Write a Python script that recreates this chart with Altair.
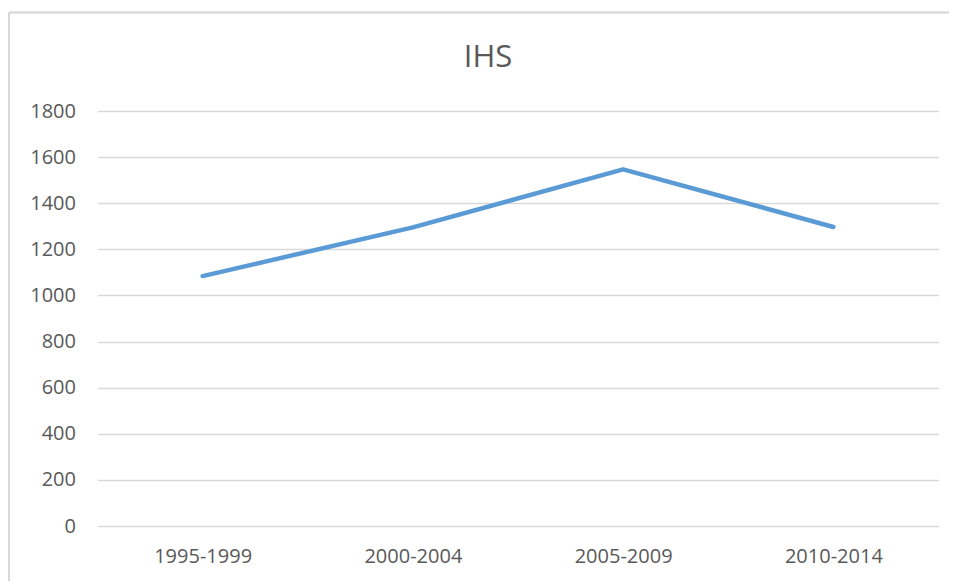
import altair as alt
import pandas as pd

periods = ["1995-1999", "2000-2004", "2005-2009", "2010-2014"]
values = [1084, 1295, 1547, 1297]
y_ticks = [0, 200, 400, 600, 800, 1000, 1200, 1400, 1600, 1800]
title_text = "IHS"

df = pd.DataFrame({"period": periods, "value": values})

FONT = "Open Sans"
TXT = "#595959"

line = alt.Chart(df).mark_line(
    color="#5b9bd5", strokeWidth=4.5, strokeCap="round", strokeJoin="round"
).encode(
    x=alt.X("period:N", sort=periods, title=None,
            scale=alt.Scale(type="point", padding=0.5),
            axis=alt.Axis(labelAngle=0, labelFont=FONT, labelFontSize=20,
                          labelColor=TXT, labelPadding=20, ticks=False,
                          domain=False, grid=False)),
    y=alt.Y("value:Q", title=None,
            scale=alt.Scale(domain=[0, 1800], nice=False),
            axis=alt.Axis(values=y_ticks, format="d", labelFont=FONT,
                          labelFontSize=20, labelColor=TXT, labelPadding=22,
                          ticks=False, domain=False, grid=True,
                          gridColor="#d9d9d9", gridWidth=1.5)),
)

border_top = alt.Chart(df).mark_rule(
    stroke="#d9d9d9", strokeWidth=1.5, clip=False
).encode(
    x=alt.value(-88.5), x2=alt.value(852), y=alt.value(-98.5)
)

border_left = alt.Chart(df).mark_rule(
    stroke="#d9d9d9", strokeWidth=1.5, clip=False
).encode(
    x=alt.value(-88.5), y=alt.value(-98.5), y2=alt.value(470)
)

title = alt.Chart(pd.DataFrame({"t": [title_text]})).mark_text(
    font=FONT, fontSize=31, color=TXT, align="center", baseline="alphabetic"
).encode(
    text="t:N", x=alt.value(390.5), y=alt.value(-44)
)

chart = alt.layer(border_top, border_left, line, title).properties(
    width=841,
    height=415,
    padding={"left": 89.5, "top": 103, "right": 10, "bottom": 55},
    autosize=alt.AutoSizeParams(type="none"),
).configure_view(stroke=None)

chart.save("out.html", embed_options={"renderer": "svg", "actions": False})
